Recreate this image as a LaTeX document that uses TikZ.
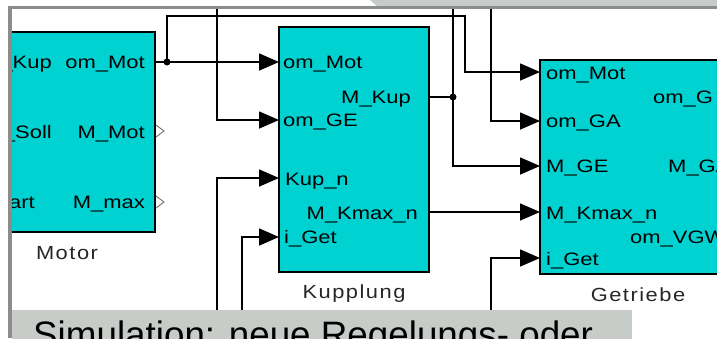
\documentclass[tikz,border=0pt]{standalone}
\usepackage{fontspec}
\setmainfont{Liberation Sans}
\newfontfamily\blkfont[FakeStretch=1.22]{Liberation Sans}
\newfontfamily\lblfont[FakeStretch=1.15,LetterSpace=8]{Liberation Sans}
\usetikzlibrary{arrows.meta}
\definecolor{simcyan}{RGB}{0,210,210}
\definecolor{boxgray}{RGB}{200,204,200}
\definecolor{framegray}{RGB}{140,140,140}
\definecolor{portgray}{RGB}{110,110,110}
\begin{document}
\begin{tikzpicture}[x=1pt,y=-1pt,
  block/.style={draw=black, line width=1.5pt, fill=simcyan, inner sep=0pt, outer sep=0pt, anchor=north west},
  sig/.style={line width=1.6pt, -{Triangle[length=20pt,width=17pt]}},
  wire/.style={line width=1.6pt},
  ptxt/.style={font=\blkfont\fontsize{18}{20}\selectfont, inner sep=0pt},
  lbl/.style={font=\lblfont\fontsize{19}{21}\selectfont, inner sep=0pt, text=black!85},
  jdot/.style={circle, fill=black, inner sep=0pt, minimum size=7pt},
  oport/.style={draw=portgray, fill=white, line width=0.9pt}
]
\useasboundingbox (0,0) rectangle (717,338);
\begin{scope}
\clip (12,9) rectangle (717,338);
% blocks
\node[block, minimum width=165pt, minimum height=200pt] (mot) at (-10,32) {};
\node[block, minimum width=150pt, minimum height=245pt] (kup) at (279,27) {};
\node[block, minimum width=200pt, minimum height=214pt] (get) at (540,60) {};
% ports
\coordinate (mot-o1) at (155,62);
\coordinate (k-i1) at (279,62);
\coordinate (k-i2) at (279,120);
\coordinate (k-i3) at (279,178);
\coordinate (k-i4) at (279,237);
\coordinate (k-o1) at (429,97);
\coordinate (k-o2) at (429,212);
\coordinate (g-i1) at (540,72);
\coordinate (g-i2) at (540,121);
\coordinate (g-i3) at (540,166);
\coordinate (g-i4) at (540,212);
\coordinate (g-i5) at (540,258);
\coordinate (top1) at (217,9);
\coordinate (top2) at (453,9);
\coordinate (top3) at (491,9);
\coordinate (bot1) at (217,338);
\coordinate (bot2) at (242,338);
\coordinate (bot3) at (491,338);
\coordinate (j1) at (167,62);
\coordinate (j2) at (453,97);
\coordinate (r1) at (167,16);
\coordinate (r2) at (465,16);
\coordinate (r3) at (465,72);
% wires
\draw[wire] (mot-o1) -- (j1);
\draw[sig] (j1) -- (k-i1);
\draw[sig] (j1) -- (r1) -- (r2) -- (r3) -- (g-i1);
\draw[sig] (top1) |- (k-i2);
\draw[sig] (top3) |- (g-i2);
\draw[wire] (k-o1) -- (j2);
\draw[wire] (top2) -- (j2);
\draw[sig] (j2) |- (g-i3);
\draw[sig] (k-o2) -- (g-i4);
\draw[sig] (bot1) |- (k-i3);
\draw[sig] (bot2) |- (k-i4);
\draw[sig] (bot3) |- (g-i5);
\node[jdot] (jd1) at (j1) {};
\node[jdot] (jd2) at (j2) {};
% motor output port markers
\draw[oport] (156,125) -- (164,131) -- (156,137);
\draw[oport] (156,196) -- (164,202) -- (156,208);
% motor texts
\node[ptxt, anchor=base east] (m1) at (52,68) {\_Kup};
\node[ptxt, anchor=base east] (m2) at (145,68) {om\_Mot};
\node[ptxt, anchor=base east] (m3) at (52,138) {\_Soll};
\node[ptxt, anchor=base east] (m4) at (145,138) {M\_Mot};
\node[ptxt, anchor=base east] (m5) at (35,208) {art};
\node[ptxt, anchor=base east] (m6) at (145,208) {M\_max};
\node[lbl, anchor=base] (mlbl) at (67,259) {Motor};
% kupplung texts
\node[ptxt, anchor=base west] (k1) at (283,68) {om\_Mot};
\node[ptxt, anchor=base west] (k2) at (283,126) {om\_GE};
\node[ptxt, anchor=base east] (k3) at (411,103) {M\_Kup};
\node[ptxt, anchor=base west] (k4) at (285,185) {Kup\_n};
\node[ptxt, anchor=base east] (k5) at (418,219) {M\_Kmax\_n};
\node[ptxt, anchor=base west] (k6) at (284,243) {i\_Get};
\node[lbl, anchor=base] (klbl) at (354,298) {Kupplung};
% getriebe texts
\node[ptxt, anchor=base west] (g1) at (546,79) {om\_Mot};
\node[ptxt, anchor=base west] (g2) at (546,127) {om\_GA};
\node[ptxt, anchor=base west] (g3) at (546,172) {M\_GE};
\node[ptxt, anchor=base west] (g4) at (546,219) {M\_Kmax\_n};
\node[ptxt, anchor=base west] (g5) at (546,265) {i\_Get};
\node[ptxt, anchor=base west] (g6) at (653,103) {om\_G};
\node[ptxt, anchor=base west] (g7) at (668,172) {M\_GA};
\node[ptxt, anchor=base west] (g8) at (630,243) {om\_VGW};
\node[lbl, anchor=base] (glbl) at (638,301) {Getriebe};
% caption box
\node[fill=boxgray, anchor=north west, minimum width=620pt, minimum height=40pt, inner sep=0pt, outer sep=0pt] (capbox) at (12,310) {};
\node[anchor=base west, inner sep=0pt, font=\fontsize{36.8}{40}\selectfont] (cap) at (33,347) {Simulation: neue Regelungs- oder};
\end{scope}
% window frame
\fill[boxgray] (370,0) -- (717,0) -- (717,7) -- (378,7) -- cycle;
\fill[framegray] (8,6) rectangle (717,9);
\fill[framegray] (8,6) rectangle (12,338);
\end{tikzpicture}
\end{document}
